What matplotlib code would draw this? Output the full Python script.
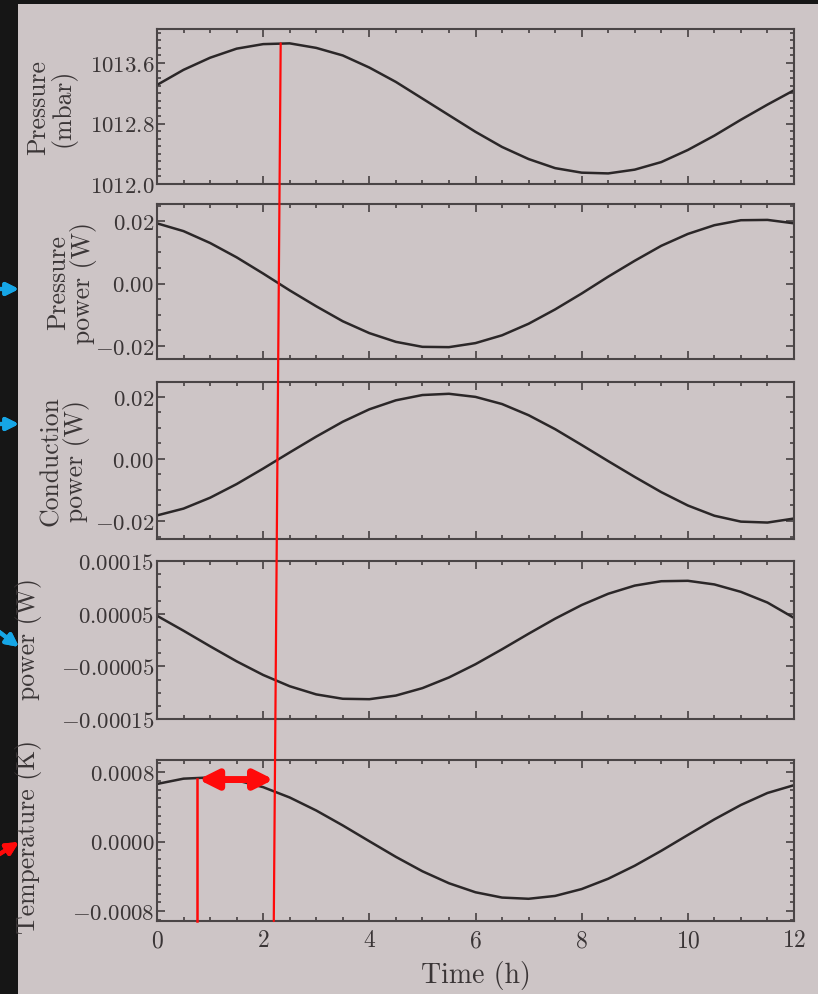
import matplotlib
matplotlib.use("Agg")
import matplotlib.pyplot as plt
from matplotlib.patches import Rectangle, ConnectionPatch
from matplotlib.ticker import MultipleLocator

# time axis (h)
time_h = [0.0, 0.5, 1.0, 1.5, 2.0, 2.5, 3.0, 3.5, 4.0, 4.5, 5.0, 5.5, 6.0,
          6.5, 7.0, 7.5, 8.0, 8.5, 9.0, 9.5, 10.0, 10.5, 11.0, 11.5, 12.0]

pressure = [1013.31, 1013.51, 1013.67, 1013.79, 1013.85, 1013.86, 1013.80,
            1013.70, 1013.54, 1013.35, 1013.13, 1012.91, 1012.69, 1012.49,
            1012.33, 1012.21, 1012.15, 1012.14, 1012.19, 1012.29, 1012.45,
            1012.64, 1012.85, 1013.05, 1013.24]

pressure_power = [0.0193, 0.0168, 0.0130, 0.0084, 0.0032, -0.0022, -0.0073,
                  -0.0121, -0.0159, -0.0187, -0.0203, -0.0204, -0.0191,
                  -0.0166, -0.0129, -0.0083, -0.0032, 0.0022, 0.0073, 0.0121,
                  0.0159, 0.0187, 0.0203, 0.0204, 0.0193]

conduction_power = [-0.0182, -0.0160, -0.0125, -0.0081, -0.0031, 0.0021,
                    0.0072, 0.0120, 0.0160, 0.0189, 0.0206, 0.0210, 0.0200,
                    0.0177, 0.0141, 0.0096, 0.0045, -0.0007, -0.0058, -0.0107,
                    -0.0150, -0.0183, -0.0202, -0.0205, -0.0192]

radiation_power = [4.6e-5, 1.76e-5, -1.19e-5, -4.05e-5, -6.64e-5, -8.78e-5,
                   -1.033e-4, -1.116e-4, -1.124e-4, -1.055e-4, -9.14e-5,
                   -7.11e-5, -4.6e-5, -1.76e-5, 1.19e-5, 4.05e-5, 6.64e-5,
                   8.78e-5, 1.033e-4, 1.116e-4, 1.124e-4, 1.055e-4, 9.14e-5,
                   7.11e-5, 4.2e-5]

temperature = [0.000664, 0.000725, 0.000739, 0.000706, 0.000627, 0.000508,
               0.000358, 0.000186, 0.000004, -0.000176, -0.000342, -0.000480,
               -0.000584, -0.000645, -0.000659, -0.000626, -0.000547,
               -0.000428, -0.000278, -0.000106, 0.000076, 0.000256, 0.000422,
               0.000560, 0.000650]

ylabels = ["Pressure\n(mbar)", "Pressure\npower (W)", "Conduction\npower (W)",
           "power (W)", "Temperature (K)"]
yticks = [[1012.0, 1012.8, 1013.6], [-0.02, 0.0, 0.02], [-0.02, 0.0, 0.02],
          [-0.00015, -0.00005, 0.00005, 0.00015], [-0.0008, 0.0, 0.0008]]
ytick_labels = [["1012.0", "1012.8", "1013.6"],
                ["-0.02", "0.00", "0.02"],
                ["-0.02", "0.00", "0.02"],
                ["-0.00015", "-0.00005", "0.00005", "0.00015"],
                ["-0.0008", "0.0000", "0.0008"]]
ylims = [(1012.0, 1014.05), (-0.0242, 0.0255), (-0.0258, 0.0248),
         (-0.00015, 0.00015), (-0.000915, 0.00094)]
yminor = [0.1, 0.005, 0.005, 0.000025, 0.0001]
series = [pressure, pressure_power, conduction_power, radiation_power, temperature]
# where each y label sits (right edge, centre) in axes fractions
label_pos = [(-0.126, 0.5), (-0.094, 0.5), (-0.105, 0.5), (-0.18, 0.51),
             (-0.18, 0.53)]

paper = "#cdc5c6"
ink = "#3a3536"

plt.rcParams["font.family"] = "serif"
plt.rcParams["font.serif"] = ["cmr10", "DejaVu Serif"]
plt.rcParams["mathtext.fontset"] = "cm"
plt.rcParams["axes.unicode_minus"] = False

W, H = 818, 995
fig = plt.figure(figsize=(W / 100, H / 100), dpi=100, facecolor="#161616")
fig.add_artist(Rectangle((18 / W, 0), 1 - 18 / W, 1 - 5 / H,
                         transform=fig.transFigure, facecolor=paper,
                         edgecolor="none", zorder=0))

# panel boxes in pixels (top, bottom)
panels = [(30, 185), (205, 360), (383, 540), (562, 720), (761, 922)]
left, right = 157, 794
axes = []
for i, (top, bottom) in enumerate(panels):
    ax = fig.add_axes([left / W, 1 - bottom / H, (right - left) / W,
                       (bottom - top) / H])
    ax.set_facecolor("none")
    ax.plot(time_h, series[i], color="#2b2728", lw=1.8)
    ax.set_xlim(0, 12)
    ax.set_ylim(*ylims[i])
    ax.set_yticks(yticks[i], labels=["$" + s + "$" for s in ytick_labels[i]])
    ax.yaxis.set_minor_locator(MultipleLocator(yminor[i]))
    ax.xaxis.set_major_locator(MultipleLocator(2))
    ax.xaxis.set_minor_locator(MultipleLocator(0.5))
    ax.tick_params(which="both", direction="in", top=True, right=True,
                   color=ink, width=1.1)
    ax.tick_params(which="major", length=6)
    ax.tick_params(which="minor", length=3)
    ax.tick_params(axis="y", labelsize=16.5, labelcolor=ink, pad=2)
    ax.tick_params(axis="x", labelsize=17, labelcolor=ink, pad=6)
    for s in ax.spines.values():
        s.set_color("#4a4546")
        s.set_linewidth(1.5)
    ax.set_ylabel(ylabels[i], fontsize=18.5, color=ink, linespacing=1.0)
    ax.yaxis.set_label_coords(*label_pos[i])
    if i < 4:
        ax.tick_params(axis="x", labelbottom=False)
    axes.append(ax)

axes[4].set_xticks([0, 2, 4, 6, 8, 10, 12],
                   labels=["$%d$" % v for v in [0, 2, 4, 6, 8, 10, 12]])
axes[4].set_xlabel("Time (h)", fontsize=20, color=ink, labelpad=6)

# red annotation lines and arrow
red = "#ff0a0a"
line = ConnectionPatch(xyA=(2.33, 1013.86), coordsA=axes[0].transData,
                       xyB=(2.2, -0.000915), coordsB=axes[4].transData,
                       color=red, lw=1.6, zorder=10)
fig.add_artist(line)
axes[4].plot([0.75, 0.75], [-0.000915, 0.00072], color=red, lw=1.8,
             clip_on=False, zorder=10)
axes[4].annotate("", xy=(0.78, 0.000715), xytext=(2.2, 0.000715),
                 arrowprops=dict(arrowstyle="<|-|>", color=red, lw=5,
                                 mutation_scale=28, shrinkA=0, shrinkB=0),
                 zorder=11)

# arrows in the dark margin
blue = "#16a6e6"
for y0, y1 in [(290, 290), (425, 425), (632, 648)]:
    fig.add_artist(plt.annotate("", xy=(19 / W, 1 - y1 / H),
                                xytext=(-2 / W, 1 - y0 / H),
                                xycoords="figure fraction",
                                textcoords="figure fraction",
                                arrowprops=dict(arrowstyle="-|>", color=blue,
                                                lw=3, mutation_scale=18,
                                                shrinkA=0, shrinkB=0)))
fig.add_artist(plt.annotate("", xy=(19 / W, 1 - 843 / H),
                            xytext=(-2 / W, 1 - 856 / H),
                            xycoords="figure fraction",
                            textcoords="figure fraction",
                            arrowprops=dict(arrowstyle="-|>", color=red,
                                            lw=3, mutation_scale=18,
                                            shrinkA=0, shrinkB=0)))

plt.savefig("out.png", dpi=100, facecolor=fig.get_facecolor())
